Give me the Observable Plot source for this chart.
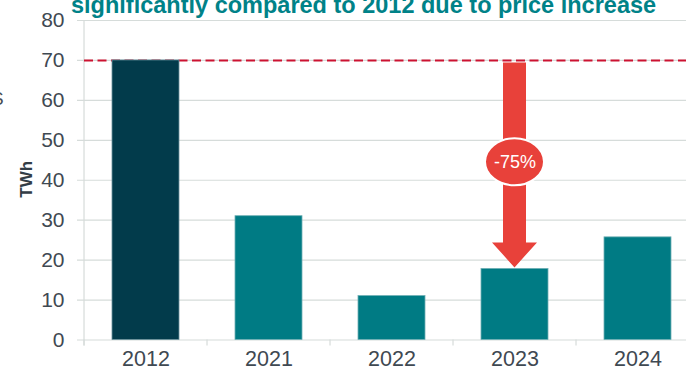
<!DOCTYPE html>
<html><head><meta charset="utf-8">
<script src="https://cdn.jsdelivr.net/npm/d3@7"></script>
<script src="https://cdn.jsdelivr.net/npm/@observablehq/plot@0.6"></script>
<style>
html,body{margin:0;padding:0;overflow:hidden;background:#fff;width:686px;height:369px}
#wrap{position:relative;width:686px;height:369px;overflow:hidden}
#title{position:absolute;left:71px;top:-8px;line-height:24px;font:bold 23.5px "Liberation Sans",Arial,sans-serif;color:#008288;white-space:nowrap}
#frag{position:absolute;left:-9px;top:88px;line-height:22px;font:19px "Liberation Sans",Arial,sans-serif;color:#4a4f55}
#chart{position:absolute;left:0;top:0;width:699px}
#chart svg{max-width:none !important}
</style></head>
<body><div id="wrap">
<div id="chart"></div>
<div id="title">significantly compared to 2012 due to price increase</div>
<div id="frag">S</div>
</div>
<script>
const years = ["2012", "2021", "2022", "2023", "2024"];
const values = [70, 31, 11, 17.8, 25.7];
const yTicks = [0, 10, 20, 30, 40, 50, 60, 70, 80];
const referenceYear = "2012";
const referenceValue = 70;
const arrowYear = "2023";
const arrowLabelY = 44.5;
const unitLabel = "TWh";

const data = years.map((y, i) => ({year: y, value: values[i]}));
const arrowValue = values[years.indexOf(arrowYear)];
const change = Math.round((arrowValue - referenceValue) / referenceValue * 100);
const changeLabel = (change > 0 ? "+" : "") + change + "%";

const gridColor = "#d6dcda";
const textColor = "#3f4952";
const arrowColor = "#e8413a";

function axisLines(index, scales) {
  const x = scales.x, y = scales.y;
  const step = x.step ? x.step() : 0;
  const pad = x.paddingInner ? x.paddingInner() * step / 2 : 0;
  const g = d3.create("svg:g").attr("stroke", gridColor).attr("stroke-width", 1.2);
  const y0 = y(0);
  g.append("line").attr("x1", x(years[0]) - pad).attr("x2", x(years[0]) - pad)
    .attr("y1", y(80)).attr("y2", y0 + 6);
  for (const yr of years) {
    const bx = x(yr) - pad;
    g.append("line").attr("x1", bx).attr("x2", bx).attr("y1", y0).attr("y2", y0 + 6);
  }
  const last = years[years.length - 1];
  const ex = x(last) + x.bandwidth() + pad;
  g.append("line").attr("x1", ex).attr("x2", ex).attr("y1", y0).attr("y2", y0 + 6);
  return g.node();
}

function arrowMark(index, scales) {
  const x = scales.x, y = scales.y;
  const cx = x(arrowYear) + x.bandwidth() / 2;
  const yTop = y(referenceValue) + 2.5;
  const yTip = y(arrowValue) - 1;
  const headLen = 25, headW = 22.5, shaftW = 11.5;
  const g = d3.create("svg:g");
  g.append("path")
    .attr("d", `M${cx - shaftW},${yTop}H${cx + shaftW}V${yTip - headLen}H${cx + headW}L${cx},${yTip}L${cx - headW},${yTip - headLen}H${cx - shaftW}Z`)
    .attr("fill", arrowColor);
  g.append("ellipse")
    .attr("cx", cx).attr("cy", y(arrowLabelY))
    .attr("rx", 29.5).attr("ry", 23.5)
    .attr("fill", arrowColor).attr("stroke", "#fff").attr("stroke-width", 2);
  return g.node();
}

const chart = Plot.plot({
  width: 699,
  height: 369,
  marginLeft: 84,
  marginRight: 0,
  marginTop: 20,
  marginBottom: 29.5,
  style: {fontFamily: "'Liberation Sans', Arial, sans-serif", background: "transparent", overflow: "visible", maxWidth: "none"},
  x: {domain: years, paddingInner: 0.455, paddingOuter: 0.2275, axis: null},
  y: {domain: [0, 80], axis: null},
  marks: [
    Plot.ruleY(yTicks, {stroke: gridColor, strokeWidth: 1.2, dx: -7}),
    axisLines,
    Plot.ruleY([referenceValue], {stroke: "#cc1231", strokeWidth: 2, strokeDasharray: "9,4.5"}),
    Plot.barY(data, {filter: d => d.year === referenceYear, x: "year", y: "value", fill: "#023b4b", stroke: "#6b929c", strokeWidth: 0.8}),
    Plot.barY(data, {filter: d => d.year !== referenceYear, x: "year", y: "value", fill: "#007b84", stroke: "#6fb0b5", strokeWidth: 0.8}),
    Plot.text(yTicks, {y: d => d, text: d => String(d), frameAnchor: "left", textAnchor: "end", dx: -20, fontSize: 21, fill: textColor}),
    Plot.text(data, {x: "year", text: "year", frameAnchor: "bottom", lineAnchor: "middle", dy: 19, fontSize: 21.5, fill: textColor}),
    Plot.text([unitLabel], {text: d => d, frameAnchor: "left", textAnchor: "middle", lineAnchor: "middle", rotate: -90, dx: -58, dy: -1, fontSize: 17, fontWeight: "bold", fill: "#333d46"}),
    arrowMark,
    Plot.text([changeLabel], {x: () => arrowYear, y: () => arrowLabelY, text: d => d, fill: "#fff", fontSize: 18, lineAnchor: "middle"})
  ]
});
document.getElementById("chart").appendChild(chart);
</script>
</body></html>
